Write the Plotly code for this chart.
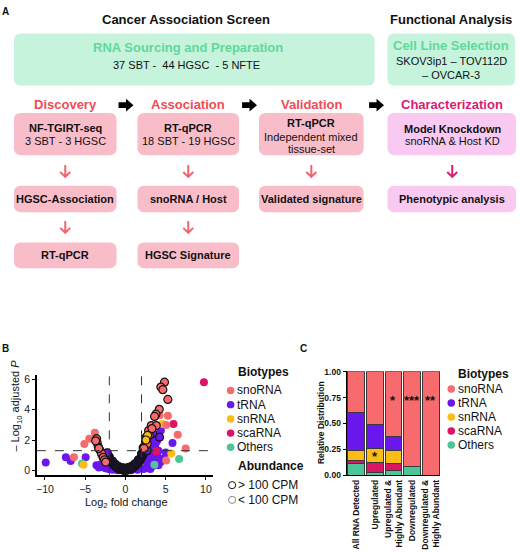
import plotly.graph_objects as go

W, H = 520, 553
FONT = "Liberation Sans, Arial, sans-serif"

# ---------------- panel B : volcano data (log2 fold change, -log10 adjusted P) ----------------
# low abundance (< 100 CPM)
sno_lo_x = [-6.4, -5.1, -4.5, -3.8, -2.8, -3.0, 4.24, 5.27, 5.06, 6.5, 7.49, 5.06]
sno_lo_y = [0.86, 1.74, 2.09, 2.47, 0.8, 1.0, 3.63, 3.59, 2.99, 2.34, 1.44, 0.65]
trna_lo_x = [-9.9, -7.4, -6.8, -4.94, -3.6, -3.3, -3.1, -2.9, -2.7, -2.5, -2.3, -2.1, -1.9, -1.6,
             -1.3, -1.0, -0.6, -0.2, 0.3, 0.7, 1.1, 1.5, 1.9, 2.3, 2.7, 3.1, 3.4, 2.9, 2.6, 3.2,
             3.7, 4.1, 4.4, 4.8, 2.8, 3.1, 3.5, 4.0, 3.3, 3.7, 3.0, 3.5, 4.4, 5.85, 5.0, 3.9, 4.1, 3.2]
trna_lo_y = [0.52, 0.86, 0.62, 0.86, 0.35, 0.2, 0.4, 0.25, 0.35, 0.15, 0.3, 0.1, 0.2, 0.05,
             0.12, 0.02, 0.1, 0.0, 0.05, 0.02, 0.12, 0.05, 0.15, 0.1, 0.2, 0.1, 0.3, 0.45, 0.55, 0.65,
             0.5, 0.35, 0.58, 0.8, 0.9, 1.1, 0.95, 0.9, 1.4, 1.6, 1.6, 2.0, 2.62, 1.8, 1.18, 1.9, 1.3, 1.9]
snrna_lo_x = [-5.2, 4.6, 5.7]
snrna_lo_y = [0.37, 3.05, 1.12]
scarna_lo_x = [9.75, 5.97, 3.83]
scarna_lo_y = [5.79, 3.05, 1.27]
others_lo_x = [6.67, 3.6, -5.4]
others_lo_y = [0.75, 0.37, 0.45]

# high abundance (> 100 CPM): dense core around zero
core_x = [-2.4, -2.3, -2.2, -2.1, -2.0, -1.9, -1.8, -1.7, -1.6, -1.5, -1.4, -1.3, -1.2, -1.1,
          -1.0, -0.9, -0.8, -0.7, -0.6, -0.5, -0.4, -0.3, -0.2, -0.1, 0.0, 0.1, 0.2, 0.3, 0.4,
          0.5, 0.6, 0.7, 0.8, 0.9, 1.0, 1.1, 1.2, 1.3, 1.4, 1.5, 1.6, 1.7, 1.8, 1.9, 2.0, 2.1,
          2.2, 2.3, 2.4, -0.8, -0.4, 0.0, 0.4, 0.8, 1.2, 1.6, -1.2, -1.6, -2.0, 2.0, 2.2]
core_y = [1.0, 0.9, 0.85, 0.75, 0.7, 0.62, 0.55, 0.5, 0.45, 0.4, 0.35, 0.3, 0.26, 0.22,
          0.18, 0.15, 0.12, 0.1, 0.08, 0.06, 0.05, 0.04, 0.03, 0.02, 0.01, 0.02, 0.03, 0.05, 0.06,
          0.08, 0.1, 0.12, 0.15, 0.18, 0.22, 0.26, 0.3, 0.35, 0.4, 0.45, 0.52, 0.6, 0.68, 0.76, 0.85, 0.95,
          1.05, 1.2, 1.35, 0.25, 0.18, 0.15, 0.2, 0.28, 0.45, 0.7, 0.4, 0.62, 0.9, 1.1, 1.5]
trna_hi_x = [-2.26, 4.24, 3.4, 2.7]
trna_hi_y = [1.16, 2.19, 2.45, 1.3]
sno_hi_x = [-3.58, -3.5, -3.37, -3.16, -2.96, -2.76, -3.7, -3.3, -2.6, -2.45,
            4.85, 4.4, 4.65, 5.27, 4.2, 3.79, 3.62, 3.21, 3.83, 2.88, 2.6, 2.5, 2.95, 2.4, 3.3, 2.7, 2.3]
sno_hi_y = [2.09, 1.8, 1.55, 1.33, 1.12, 0.86, 1.95, 1.45, 0.7, 0.55,
            5.8, 5.48, 5.31, 4.67, 4.02, 3.7, 3.55, 2.95, 2.95, 2.62, 2.2, 1.9, 2.3, 1.6, 2.75, 1.75, 1.45]
snrna_hi_x = [2.75, 2.55]
snrna_hi_y = [2.3, 2.0]

fc_cut = 2
p_cut = 1.3

# ---------------- panel C : stacked bar data ----------------
categories = ["All RNA Detected", "Upregulated", "Upregulated &<br>Highly Abundant",
              "Downregulated", "Downregulated &<br>Highly Abundant"]
others = [0.11, 0.03, 0.045, 0.085, 0.0]
scarna = [0.03, 0.095, 0.07, 0.0, 0.0]
snrna = [0.095, 0.135, 0.12, 0.0, 0.0]
trna = [0.37, 0.23, 0.14, 0.0, 0.0]
snorna = [0.395, 0.51, 0.625, 0.915, 1.0]
stars = ["", "*", "*", "***", "**"]
star_y = [0.0, 0.18, 0.72, 0.72, 0.72]

biotypes = ["snoRNA", "tRNA", "snRNA", "scaRNA", "Others"]
C_SNO, C_TRNA, C_SN, C_SCA, C_OTH = "#F76B6E", "#6A17EE", "#FBBC16", "#DC1465", "#4DC596"
bio_colors = [C_SNO, C_TRNA, C_SN, C_SCA, C_OTH]

GREEN_BG, GREEN = "#C6F3DC", "#5FD89C"
PINK_BG, RED, PINK_ARROW = "#F9BDC9", "#EF4B55", "#F2646E"
LILAC_BG, MAGENTA = "#F9C9F1", "#D91B72"


def px(x):
    return x / W


def py(y):
    return 1 - y / H


shapes = []
annotations = []


def text(x, y, s, size=11, color="#111111", bold=False, anchor="center", angle=0):
    annotations.append(dict(
        x=px(x), y=py(y), xref="paper", yref="paper", text=s, showarrow=False,
        xanchor=anchor, yanchor="middle", textangle=angle,
        font=dict(family=FONT, size=size, color=color, weight="bold" if bold else "normal")))


def pt(x, y):
    return f"{px(x):.5f},{py(y):.5f}"


def box(x0, y0, x1, y1, color, r=7):
    p = (f"M {pt(x0 + r, y0)} L {pt(x1 - r, y0)} Q {pt(x1, y0)} {pt(x1, y0 + r)} "
         f"L {pt(x1, y1 - r)} Q {pt(x1, y1)} {pt(x1 - r, y1)} "
         f"L {pt(x0 + r, y1)} Q {pt(x0, y1)} {pt(x0, y1 - r)} "
         f"L {pt(x0, y0 + r)} Q {pt(x0, y0)} {pt(x0 + r, y0)} Z")
    shapes.append(dict(type="path", xref="paper", yref="paper", path=p,
                       fillcolor=color, line=dict(width=0)))


def right_arrow(cx, cy):
    p = (f"M {pt(cx - 7.5, cy - 3)} L {pt(cx, cy - 3)} L {pt(cx, cy - 6.5)} L {pt(cx + 7.5, cy)} "
         f"L {pt(cx, cy + 6.5)} L {pt(cx, cy + 3)} L {pt(cx - 7.5, cy + 3)} Z")
    shapes.append(dict(type="path", xref="paper", yref="paper", path=p,
                       fillcolor="black", line=dict(width=0)))


def down_arrow(cx, y0, y1, color):
    p = (f"M {pt(cx, y0)} L {pt(cx, y1)} M {pt(cx - 5, y1 - 5)} L {pt(cx, y1)} L {pt(cx + 5, y1 - 5)}")
    shapes.append(dict(type="path", xref="paper", yref="paper", path=p,
                       line=dict(color=color, width=2)))


def dot(cx, cy, color, r=3.8, line=None):
    shapes.append(dict(type="circle", xref="paper", yref="paper",
                       x0=px(cx - r), x1=px(cx + r), y0=py(cy + r), y1=py(cy - r),
                       fillcolor=color, line=line or dict(width=0)))


# ---------------- panel A : workflow ----------------
text(5, 7, "A", 10, bold=True)
text(186, 15, "Cancer Association Screen", 13, bold=True)
text(452, 15, "Functional Analysis", 13, bold=True)

box(13, 29, 375, 82, GREEN_BG)
text(188, 43, "RNA Sourcing and Preparation", 13, GREEN, True)
text(186, 61, "37 SBT -\u00a0 44 HGSC\u00a0 - 5 NFTE", 11)
box(388, 29, 516, 82, GREEN_BG)
text(452, 41, "Cell Line Selection", 13, GREEN, True)
text(452, 57, "SKOV3ip1 – TOV112D", 11)
text(452, 71, "– OVCAR-3", 11)

cols = [(13, 116), (137, 239), (259, 364)]
centers = [(a + b) / 2 for a, b in cols]
for c, h in zip(centers, ["Discovery", "Association", "Validation"]):
    text(c, 101, h, 13, RED, True)
text(453, 101, "Characterization", 13, MAGENTA, True)
for c in [125.5, 249.5, 377]:
    right_arrow(c, 102)

for a, b in cols:
    box(a, 110, b, 153, PINK_BG)
box(388, 110, 517, 153, LILAC_BG)
text(centers[0], 125, "NF-TGIRT-seq", 11, bold=True)
text(centers[0], 138, "3 SBT - 3 HGSC", 11)
text(centers[1], 125, "RT-qPCR", 11, bold=True)
text(centers[1], 138, "18 SBT - 19 HGSC", 11)
text(centers[2], 120, "RT-qPCR", 11, bold=True)
text(centers[2], 134, "Independent mixed", 11)
text(centers[2], 147, "tissue-set", 11)
text(453, 126, "Model Knockdown", 11, bold=True)
text(453, 139, "snoRNA & Host KD", 11)

for c in centers:
    down_arrow(c, 163, 175, PINK_ARROW)
down_arrow(453, 163, 175, MAGENTA)

for (a, b), s in zip(cols, ["HGSC-Association", "snoRNA / Host", "Validated signature"]):
    box(a, 184, b, 211, PINK_BG)
    text((a + b) / 2, 198, s, 11, bold=True)
box(388, 184, 517, 211, LILAC_BG)
text(453, 198, "Phenotypic analysis", 11, bold=True)

for c in centers[:2]:
    down_arrow(c, 220, 232, PINK_ARROW)
for (a, b), s in zip(cols[:2], ["RT-qPCR", "HGSC Signature"]):
    box(a, 242, b, 268, PINK_BG)
    text((a + b) / 2, 255, s, 11, bold=True)

# ---------------- panel B : volcano ----------------
fig = go.Figure()


def pts(xs, ys, color, outline, size=8):
    fig.add_trace(go.Scatter(
        x=xs, y=ys, mode="markers", xaxis="x", yaxis="y", hoverinfo="skip",
        marker=dict(size=size, color=color,
                    line=dict(color="#151515", width=1.2 if outline else 0))))


pts(trna_lo_x, trna_lo_y, C_TRNA, False)
pts(others_lo_x, others_lo_y, C_OTH, False)
pts(snrna_lo_x, snrna_lo_y, C_SN, False)
pts(scarna_lo_x, scarna_lo_y, C_SCA, False)
pts(sno_lo_x, sno_lo_y, C_SNO, False)
pts(core_x, core_y, "#1b1030", True)
pts(trna_hi_x, trna_hi_y, C_TRNA, True)
pts(sno_hi_x, sno_hi_y, C_SNO, True)
pts(snrna_hi_x, snrna_hi_y, C_SN, True)

for xv in [-fc_cut, fc_cut]:
    shapes.append(dict(type="line", xref="x", yref="y domain", x0=xv, x1=xv, y0=0, y1=1,
                       line=dict(color="#333333", width=1, dash="dash")))
shapes.append(dict(type="line", xref="x domain", yref="y", x0=0, x1=1, y0=p_cut, y1=p_cut,
                   line=dict(color="#333333", width=1, dash="dash")))

text(5, 350, "B", 10, bold=True)
text(15, 408, "– Log<sub>10</sub> adjusted <i>P</i>", 11, angle=-90)
text(126, 507, "Log<sub>2</sub> fold change", 11)

text(236, 374, "Biotypes", 12, bold=True, anchor="left")
for i, (b, c) in enumerate(zip(biotypes, bio_colors)):
    yy = 392.5 + i * 14.5
    dot(230.5, yy, c)
    text(235, yy, b, 12, anchor="left")
text(236, 469.5, "Abundance", 12, bold=True, anchor="left")
dot(232, 489, "white", r=3.6, line=dict(color="#111111", width=1))
text(236, 489, "> 100 CPM", 12, anchor="left")
dot(232, 504, "white", r=3.6, line=dict(color="#888888", width=1))
text(236, 504, "< 100 CPM", 12, anchor="left")

# ---------------- panel C : stacked bars ----------------
for vals, name, col in [(others, "Others", C_OTH), (scarna, "scaRNA", C_SCA),
                        (snrna, "snRNA", C_SN), (trna, "tRNA", C_TRNA), (snorna, "snoRNA", C_SNO)]:
    fig.add_trace(go.Bar(x=categories, y=vals, name=name, xaxis="x2", yaxis="y2",
                         marker=dict(color=col, line=dict(color="#3a3a3a", width=1)),
                         hoverinfo="skip"))

for cat, s, yv in zip(categories, stars, star_y):
    if s:
        annotations.append(dict(x=cat, y=yv, xref="x2", yref="y2", text=s, showarrow=False,
                                font=dict(family=FONT, size=13, color="#111111", weight="bold")))

text(304, 350, "C", 10, bold=True)
text(322, 425, "Relative Distribution", 8.5, bold=True, angle=-90)
text(457, 376, "Biotypes", 12, bold=True, anchor="left")
for i, (b, c) in enumerate(zip(biotypes, bio_colors)):
    yy = 391 + i * 14.3
    dot(452, yy, c)
    text(457, yy, b, 12, anchor="left")

fig.update_layout(
    width=W, height=H, margin=dict(l=0, r=0, t=0, b=0),
    paper_bgcolor="white", plot_bgcolor="rgba(0,0,0,0)",
    showlegend=False, barmode="stack", bargap=0.1,
    font=dict(family=FONT, color="#111111"),
    xaxis=dict(domain=[px(36), px(213)], range=[-11, 10.9], tickvals=[-10, -5, 0, 5, 10],
               showline=True, linecolor="black", linewidth=1.5, ticks="outside", ticklen=3,
               tickcolor="black", showgrid=False, zeroline=False, anchor="y",
               tickfont=dict(size=10.5, color="#222222")),
    yaxis=dict(domain=[py(479), py(377)], range=[-0.32, 6.26], tickvals=[0, 2, 4, 6],
               showline=True, linecolor="black", linewidth=1.5, ticks="outside", ticklen=3,
               tickcolor="black", showgrid=False, zeroline=False, anchor="x",
               tickfont=dict(size=10.5, color="#222222")),
    xaxis2=dict(domain=[px(347), px(441)], showline=True, linecolor="black", linewidth=1.2,
                tickangle=-90, showgrid=False, zeroline=False, anchor="y2", ticks="",
                tickfont=dict(size=8.5, color="#111111", weight="bold")),
    yaxis2=dict(domain=[py(479), py(373)], range=[0, 1.004], tickvals=[0, 0.25, 0.5, 0.75, 1],
                tickformat=".2f", showline=True, linecolor="black", linewidth=1.2,
                ticks="outside", ticklen=3, tickcolor="black", showgrid=False, zeroline=False,
                anchor="x2", tickfont=dict(size=8.5, color="#111111", weight="bold")),
    shapes=shapes, annotations=annotations,
)

fig.write_html("out.html", config={"displayModeBar": False},
               post_script="document.body.style.margin='0';")
